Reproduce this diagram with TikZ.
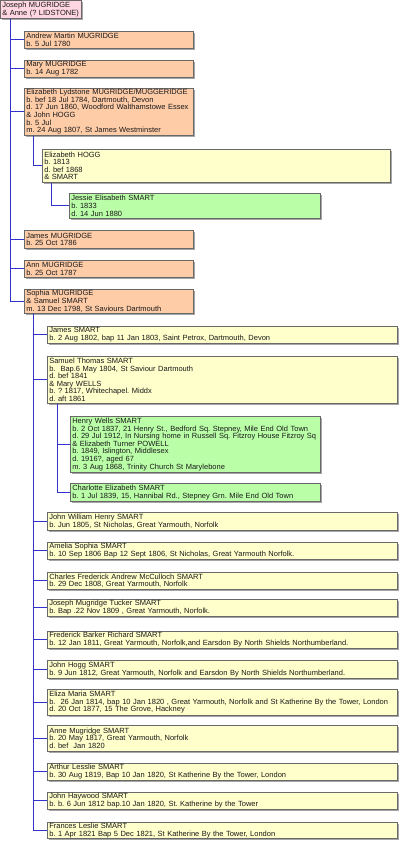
\documentclass[tikz,border=0pt]{standalone}
\usepackage{fontspec}
\setmainfont{Liberation Sans}
\usetikzlibrary{shadows}
\frenchspacing

\definecolor{pinkfill}{RGB}{255,214,226}
\definecolor{peachfill}{RGB}{255,204,168}
\definecolor{creamfill}{RGB}{255,255,204}
\definecolor{mintfill}{RGB}{186,255,168}
\definecolor{linkblue}{RGB}{50,50,205}
\definecolor{boxedge}{RGB}{105,105,105}

\tikzset{
  person/.style={draw=boxedge, line width=0.6pt, anchor=north west, align=left,
    inner xsep=2pt, inner ysep=0.8pt, font=\fontsize{7.5}{7.6}\selectfont, text=black!90,
    drop shadow={shadow xshift=1.6pt, shadow yshift=-1.6pt, fill=black!50, opacity=0.7}},
  pinkbox/.style={person, fill=pinkfill},
  peachbox/.style={person, fill=peachfill, text width=165pt},
  creambox/.style={person, fill=creamfill, text width=346pt},
  mintbox/.style={person, fill=mintfill, text width=246pt},
  link/.style={draw=linkblue, line width=0.8pt}
}

\begin{document}
\begin{tikzpicture}[x=1pt, y=-1pt]
        \useasboundingbox (0,0) rectangle (400,843);

        % Nodes
        \node (joseph) at (0,0) [pinkbox, text width=77pt, minimum height=18pt] {Joseph MUGRIDGE\\\& Anne (? LIDSTONE)};

        \node (andrew) at (24,31) [peachbox, minimum height=17pt] {Andrew Martin MUGRIDGE\\b. 5 Jul 1780};
        \node (mary) at (24,60) [peachbox, minimum height=17pt] {Mary MUGRIDGE\\b. 14 Aug 1782};
        \node (elizabeth) at (24,88) [peachbox, minimum height=47pt] {Elizabeth Lydstone MUGRIDGE/MUGGERIDGE\\b. bef 18 Jul 1784, Dartmouth, Devon\\d. 17 Jun 1860, Woodford Walthamstowe Essex\\\& John HOGG\\b. 5 Jul\\m. 24 Aug 1807, St James Westminster};
        \node (hogg) at (42,149) [creambox, text width=344pt, minimum height=33pt] {Elizabeth HOGG\\b. 1813\\d. bef 1868\\\& SMART};
        \node (jessie) at (69,193) [mintbox, text width=247pt, minimum height=25pt] {Jessie Elisabeth SMART\\b. 1833\\d. 14 Jun 1880};
        \node (james) at (24,230) [peachbox, minimum height=18pt] {James MUGRIDGE\\b. 25 Oct 1786};
        \node (ann) at (24,260) [peachbox, minimum height=17pt] {Ann MUGRIDGE\\b. 25 Oct 1787};
        \node (sophia) at (24,289) [peachbox, minimum height=24pt] {Sophia MUGRIDGE\\\& Samuel SMART\\m. 13 Dec 1798, St Saviours Dartmouth};

        \node (jamess) at (47,326) [creambox, minimum height=17pt] {James SMART\\b. 2 Aug 1802, bap 11 Jan 1803, Saint Petrox, Dartmouth, Devon};
        \node (samuel) at (47,356) [creambox, minimum height=47pt] {Samuel Thomas SMART\\b.\ \ Bap.6 May 1804, St Saviour Dartmouth\\d. bef 1841\\\& Mary WELLS\\b. ? 1817, Whitechapel. Middx\\d. aft 1861};
        \node (henry) at (70,416) [mintbox, minimum height=56pt] {Henry Wells SMART\\b. 2 Oct 1837, 21 Henry St., Bedford Sq. Stepney, Mile End Old Town\\d. 29 Jul 1912, In Nursing home in Russell Sq. Fitzroy House Fitzroy Sq\\\& Elizabeth Turner POWELL\\b. 1849, Islington, Middlesex\\d. 1916?, aged 67\\m. 3 Aug 1868, Trinity Church St Marylebone};
        \node (charlotte) at (70,483) [mintbox, minimum height=18pt] {Charlotte Elizabeth SMART\\b. 1 Jul 1839, 15, Hannibal Rd., Stepney Grn. Mile End Old Town};
        \node (johnwh) at (47,512) [creambox, minimum height=18pt] {John William Henry SMART\\b. Jun 1805, St Nicholas, Great Yarmouth, Norfolk};
        \node (amelia) at (47,542) [creambox, minimum height=17pt] {Amelia Sophia SMART\\b. 10 Sep 1806 Bap 12 Sept 1806, St Nicholas, Great Yarmouth Norfolk.};
        \node (charles) at (47,572) [creambox, minimum height=17pt] {Charles Frederick Andrew McCulloch SMART\\b. 29 Dec 1808, Great Yarmouth, Norfolk};
        \node (josephmt) at (47,599) [creambox, minimum height=17pt] {Joseph Mugridge Tucker SMART\\b. Bap .22 Nov 1809 , Great Yarmouth, Norfolk.};
        \node (frederick) at (47,631) [creambox, minimum height=17pt] {Frederick Barker Richard SMART\\b. 12 Jan 1811, Great Yarmouth, Norfolk,and Earsdon By North Shields Northumberland.};
        \node (johnhogg) at (47,660) [creambox, minimum height=18pt] {John Hogg SMART\\b. 9 Jun 1812, Great Yarmouth, Norfolk and Earsdon By North Shields Northumberland.};
        \node (eliza) at (47,689) [creambox, minimum height=26pt] {Eliza Maria SMART\\b.\ \ 26 Jan 1814, bap 10 Jan 1820 , Great Yarmouth, Norfolk and St Katherine By the Tower, London\\d. 20 Oct 1877, 15 The Grove, Hackney};
        \node (anne) at (47,725) [creambox, minimum height=26pt] {Anne Mugridge SMART\\b. 20 May 1817, Great Yarmouth, Norfolk\\d. bef\ \ Jan 1820};
        \node (arthur) at (47,763) [creambox, minimum height=17pt] {Arthur Lesslie SMART\\b. 30 Aug 1819, Bap 10 Jan 1820, St Katherine By the Tower, London};
        \node (haywood) at (47,792) [creambox, minimum height=17pt] {John Haywood SMART\\b. b. 6 Jun 1812 bap.10 Jan 1820, St. Katherine by the Tower};
        \node (frances) at (47,822) [creambox, minimum height=16pt] {Frances Leslie SMART\\b. 1 Apr 1821 Bap 5 Dec 1821, St Katherine By the Tower, London};

        % Edges
        \draw[link] ([xshift=10pt]joseph.south west) |- (andrew.west);
        \draw[link] ([xshift=10pt]joseph.south west) |- (mary.west);
        \draw[link] ([xshift=10pt]joseph.south west) |- (elizabeth.west);
        \draw[link] ([xshift=10pt]joseph.south west) |- (james.west);
        \draw[link] ([xshift=10pt]joseph.south west) |- (ann.west);
        \draw[link] ([xshift=10pt]joseph.south west) |- (sophia.west);
        \draw[link] ([xshift=9pt]elizabeth.south west) |- (hogg.west);
        \draw[link] ([xshift=9pt]hogg.south west) |- (jessie.west);
        \draw[link] ([xshift=9pt]sophia.south west) |- (jamess.west);
        \draw[link] ([xshift=9pt]sophia.south west) |- (samuel.west);
        \draw[link] ([xshift=10pt]samuel.south west) |- (henry.west);
        \draw[link] ([xshift=10pt]samuel.south west) |- (charlotte.west);
        \draw[link] ([xshift=9pt]sophia.south west) |- (johnwh.west);
        \draw[link] ([xshift=9pt]sophia.south west) |- (amelia.west);
        \draw[link] ([xshift=9pt]sophia.south west) |- (charles.west);
        \draw[link] ([xshift=9pt]sophia.south west) |- (josephmt.west);
        \draw[link] ([xshift=9pt]sophia.south west) |- (frederick.west);
        \draw[link] ([xshift=9pt]sophia.south west) |- (johnhogg.west);
        \draw[link] ([xshift=9pt]sophia.south west) |- (eliza.west);
        \draw[link] ([xshift=9pt]sophia.south west) |- (anne.west);
        \draw[link] ([xshift=9pt]sophia.south west) |- (arthur.west);
        \draw[link] ([xshift=9pt]sophia.south west) |- (haywood.west);
        \draw[link] ([xshift=9pt]sophia.south west) |- (frances.west);
      \end{tikzpicture}
\end{document}
